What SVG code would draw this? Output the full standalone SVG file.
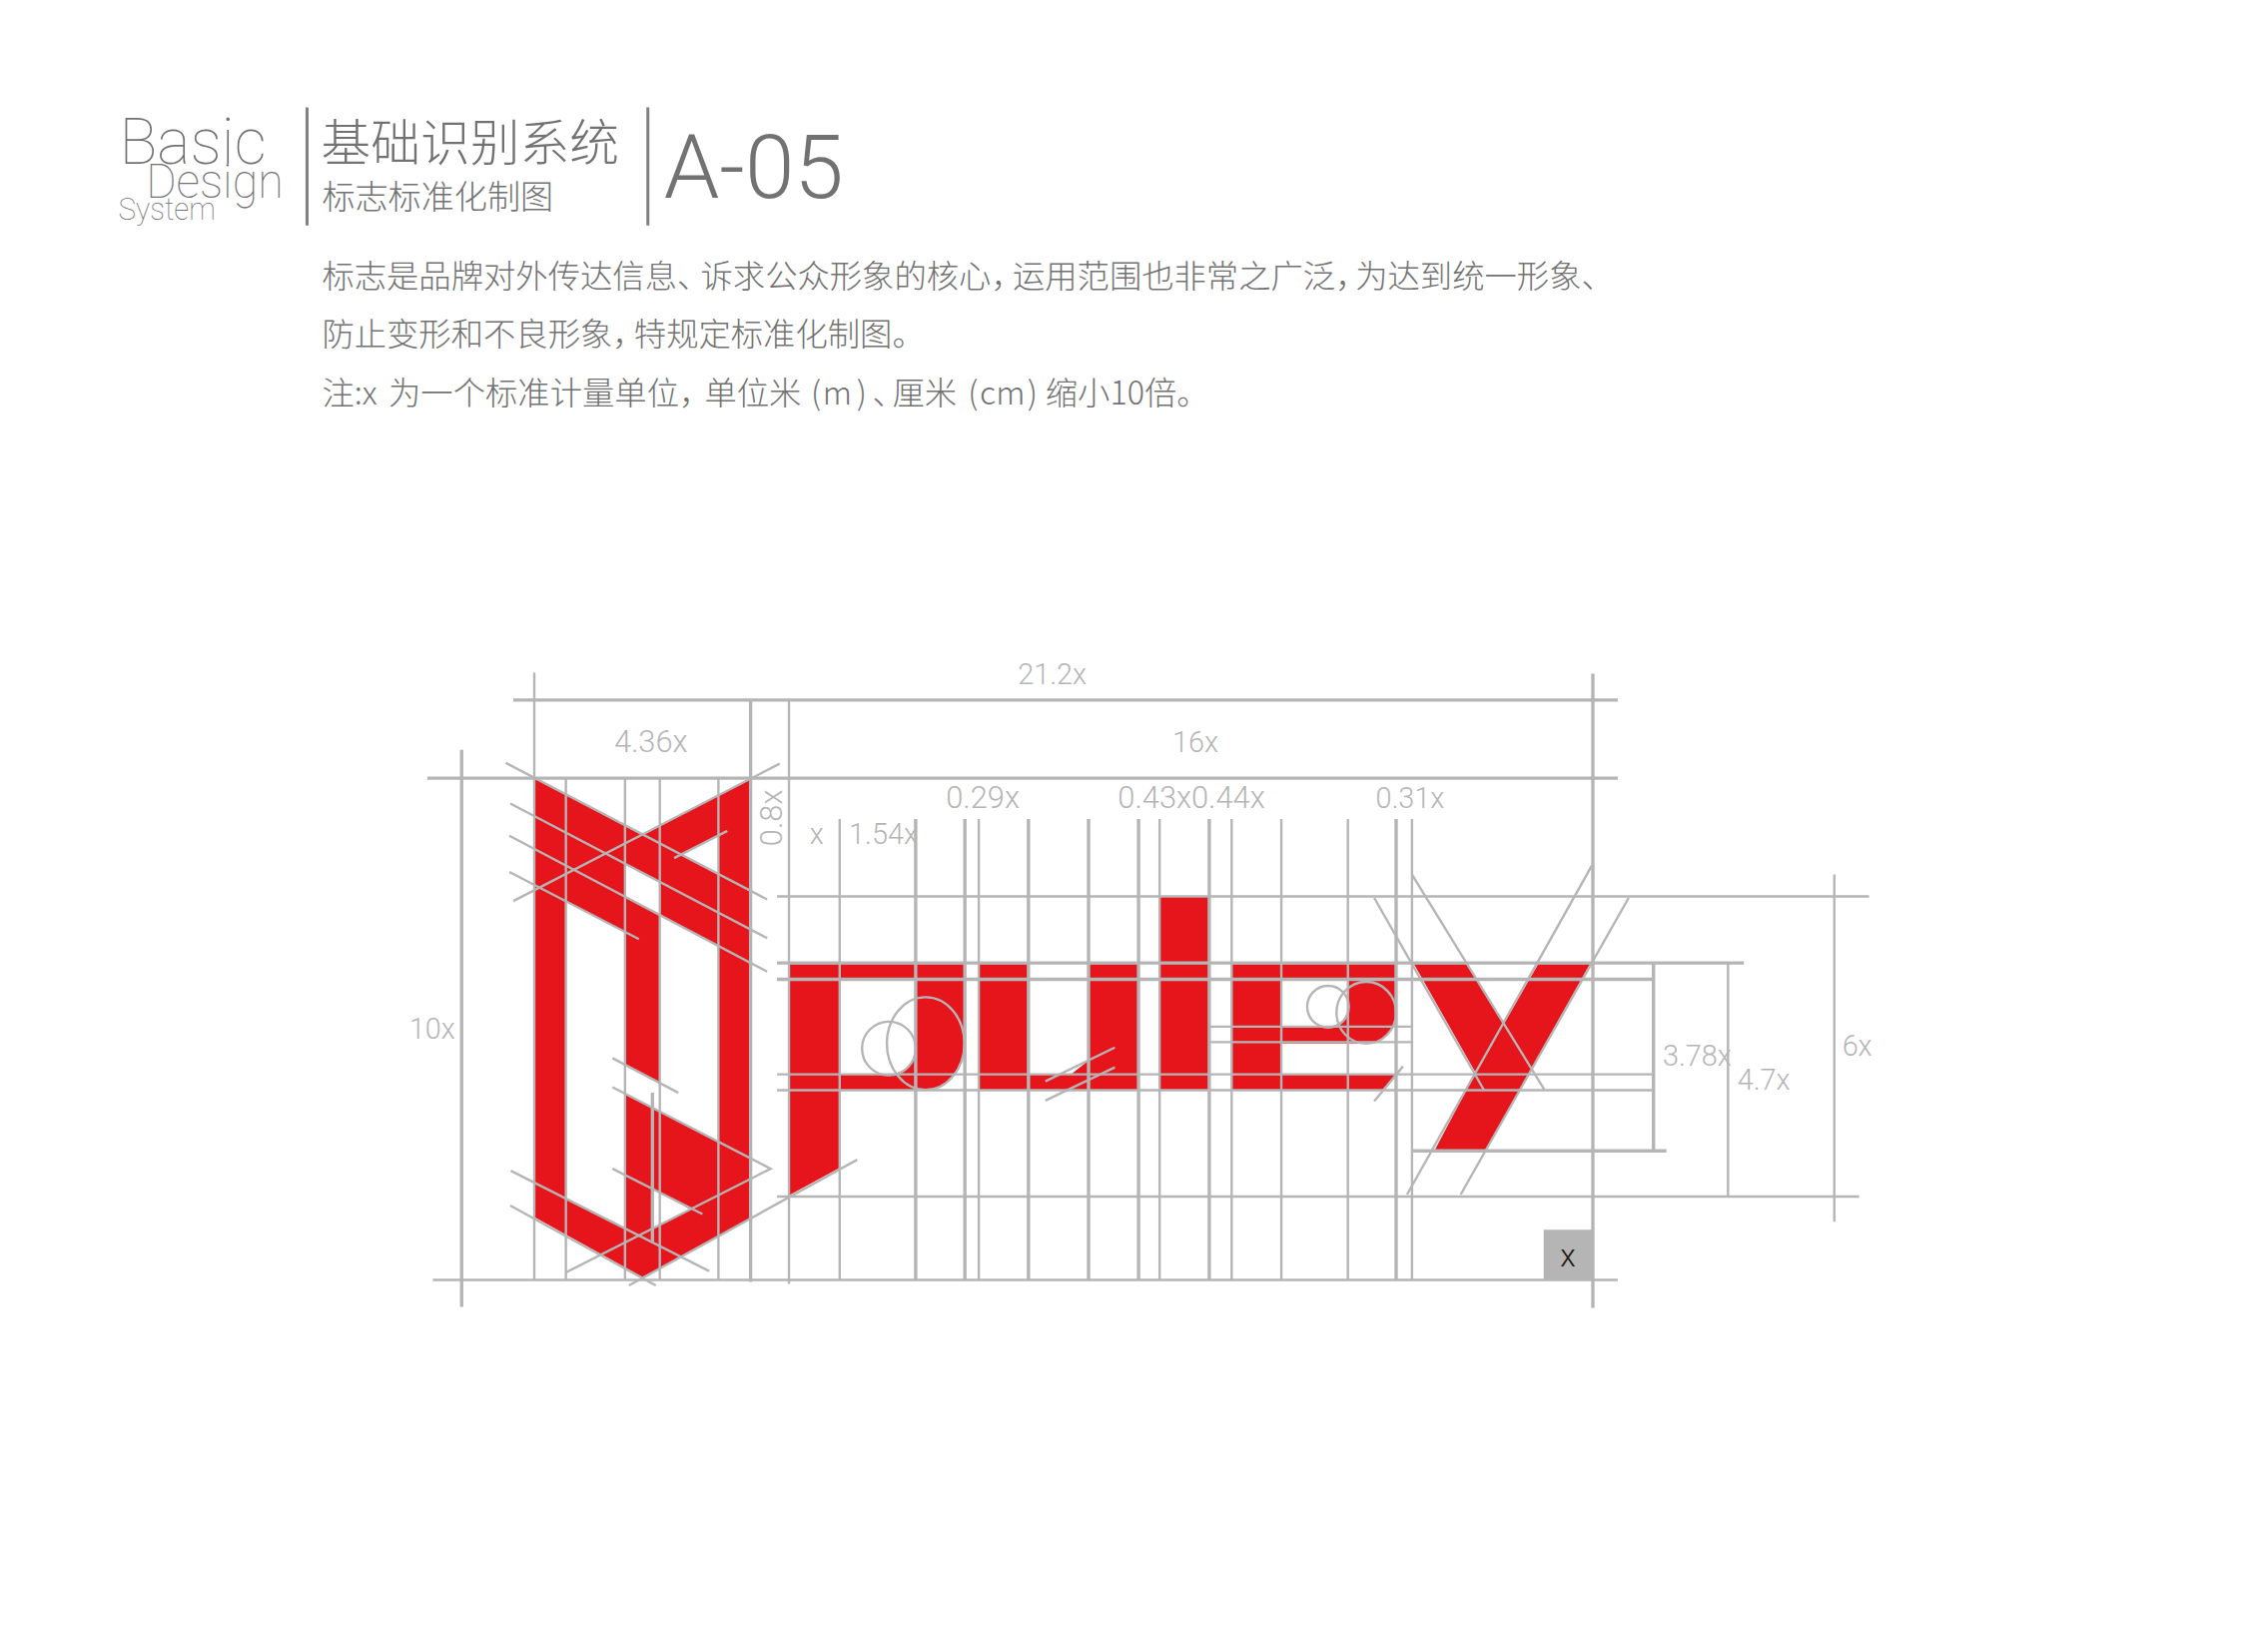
<svg xmlns="http://www.w3.org/2000/svg" width="2245" height="1654" viewBox="0 0 2245 1654">
<style>
.hd{fill:#727272;font-family:"Roboto","Liberation Sans",sans-serif;font-weight:100}
.cn{fill:#727272;font-family:"Noto Sans CJK SC","Noto Sans",sans-serif;font-weight:300}
.body{font-size:32.5px}
.dim{fill:#b5b5b5;font-family:"Roboto","Liberation Sans",sans-serif;font-weight:300;font-size:29px;text-anchor:middle}
.wide{font-size:31px}
.red{fill:#e6141b;fill-rule:evenodd}
.g{stroke:#b5b5b5;stroke-width:2.4;fill:none}
.t{stroke:#b5b5b5;stroke-width:3.4;fill:none}
</style>
<rect width="2245" height="1654" fill="#ffffff"/>
<g id="sheet" transform="scale(0.995)">
<g id="header">
<text class="hd" x="120" y="165" font-size="66" textLength="148" lengthAdjust="spacingAndGlyphs">Basic</text>
<text class="hd" x="147" y="199" font-size="48" textLength="138" lengthAdjust="spacingAndGlyphs">Design</text>
<text class="hd" x="119" y="221" font-size="31" textLength="98" lengthAdjust="spacingAndGlyphs">System</text>
<path d="M309 108V227M652 108V227" stroke="#808080" stroke-width="3" fill="none"/>
<text class="cn" x="323" y="162" font-size="50">基础识别系统</text>
<text class="cn" x="324" y="210" font-size="33.3">标志标准化制图</text>
<text class="hd" style="font-weight:300" x="668" y="199" font-size="90" textLength="181" lengthAdjust="spacingAndGlyphs">A-05</text>
</g>
<g id="description" class="cn body">
<text x="324" y="289"><tspan x="324">标志是品牌对外传达信息、</tspan><tspan x="705">诉求公众形象的核心，</tspan><tspan x="1019">运用范围也非常之广泛，</tspan><tspan x="1364">为达到统一形象、</tspan></text>
<text x="324" y="348"><tspan x="324">防止变形和不良形象，</tspan><tspan x="638">特规定标准化制图。</tspan></text>
<text x="324" y="407"><tspan x="324">注:x</tspan><tspan x="391">为一个标准计量单位，</tspan><tspan x="709">单位米</tspan><tspan x="816">(</tspan><tspan x="828">m</tspan><tspan x="862">)</tspan><tspan x="878">、</tspan><tspan x="898">厘米</tspan><tspan x="974">(</tspan><tspan x="986">cm</tspan><tspan x="1034">)</tspan><tspan x="1052">缩小10倍。</tspan></text>
</g>
<g id="logo-mark"><path class="red" d="M537.7 783L646.5 840.4L755.4 783V1226L646.5 1285L537.7 1224.6Z
M569.5 907L629 937.5V1071.3L664 1089.6V919.6L723 952.8V1148.8L629.8 1101.8V1236L569.5 1205.5Z
M629 869.5L664 888.3V919.6L629 902.2Z
M685 860L723 840.4V880.4Z
M656.6 1195.4L695 1217L656.6 1237Z"/></g>
<g id="logo-word">
<path class="red" d="M793.6 970H970.5V1050A39 46 0 0 1 931.5 1097H845V1175L793.6 1203ZM845 985.5V1081H894.5A27 27 0 0 0 921.5 1054V985.5Z"/>
<path class="red" d="M985 970H1035V1081H1078L1095.5 1067V970H1145.8V1097H985Z"/>
<rect class="red" x="1167" y="902" width="50" height="195"/>
<path class="red" d="M1239.5 970H1405V1019A30 31 0 0 1 1375 1050H1289.5V1081H1405L1391 1097H1239.5ZM1289.5 985.5V1033H1336A21 21 0 0 0 1357 1012V985.5Z"/>
<path class="red" d="M1423 970H1476L1513 1031L1548 970H1600L1495.5 1157H1444L1485 1079.5Z"/>
</g>
<g id="connectors">
<path class="t" d="M516.6 704.4H1628M430 783H1628M464.6 754.5V1315M755.4 704.4V1290M1603 678V1316M656.6 1099.6V1250M782 969H1755M782 985.4H1664M1664 969V1158"/>
<path class="t" d="M921.5 824V1288M971 824V1288M1035 824V1288M1095.5 824V1288M1145.8 824V1288M1217 824V1288M1405 824V1288"/>
<path class="g" d="M435.5 1288H1628M537.7 677V1288M569.5 783V1288M629 783V1288M664 783V1288M723 783V1288M794 704.4V1292M845 824V1288M985 824V1288M1167 824V1288M1239.5 824V1288M1289.5 824V1288M1356.5 824V1288M1421 824V1288"/>
<path class="g" d="M782 902H1881M782 1081H1664M782 1097H1664M1217 1033H1421M1217 1048.6H1421M782 1204H1871M1739 969V1204M1846 880V1229.5"/>
<path class="t" d="M1421 1158H1677"/>
<path class="g" d="M509 767.6L772 905M513.6 808.5L772 944M512.6 841L772 977.6M512.6 877.4L643 945M516.6 906.6L784.6 768.5M678.4 863.4L732 836M616.4 1064.7L682.7 1099.6M616.4 1094L775.5 1176L569.5 1280.4M616.4 1176L706.9 1221.6M514 1178L713.6 1279M513.5 1213L660 1293.5M633 1293.5L862.6 1167"/>
<path class="g" d="M1052 1088L1122 1054M1052 1107.4L1122 1074M1383 1108L1412 1073"/>
<path class="g" d="M1383 903.5L1493.5 1097M1421 880L1554 1096M1602 871L1416 1202M1639 903.5L1470 1202"/>
<circle class="g" cx="894.5" cy="1055" r="27"/><ellipse class="g" cx="931.5" cy="1050" rx="39" ry="46.6"/>
<circle class="g" cx="1336.5" cy="1013" r="21"/><ellipse class="g" cx="1375" cy="1019" rx="30" ry="31"/>
</g>
<g id="unit-box"><rect x="1553.5" y="1237.4" width="50.5" height="50.6" fill="#b5b5b5"/><text x="1578" y="1274" font-family="Roboto,'Liberation Sans',sans-serif" font-size="32" font-weight="300" fill="#231815" text-anchor="middle">x</text></g>
<g id="dimension-labels">
<text class="dim" x="1059" y="688">21.2x</text>
<text class="dim wide" x="655" y="757">4.36x</text>
<text class="dim" x="1203" y="757">16x</text>
<text class="dim wide" x="989" y="813">0.29x</text>
<text class="dim wide" x="1199" y="813">0.43x0.44x</text>
<text class="dim" x="1419" y="813">0.31x</text>
<text class="dim" x="822" y="849">x</text>
<text class="dim" x="889" y="849">1.54x</text>
<text class="dim wide" transform="translate(787 823) rotate(-90)">0.8x</text>
<text class="dim" x="435" y="1045">10x</text>
<text class="dim" x="1708" y="1072">3.78x</text>
<text class="dim" x="1775" y="1096">4.7x</text>
<text class="dim" x="1869" y="1062">6x</text>
</g>
</g>
</svg>
